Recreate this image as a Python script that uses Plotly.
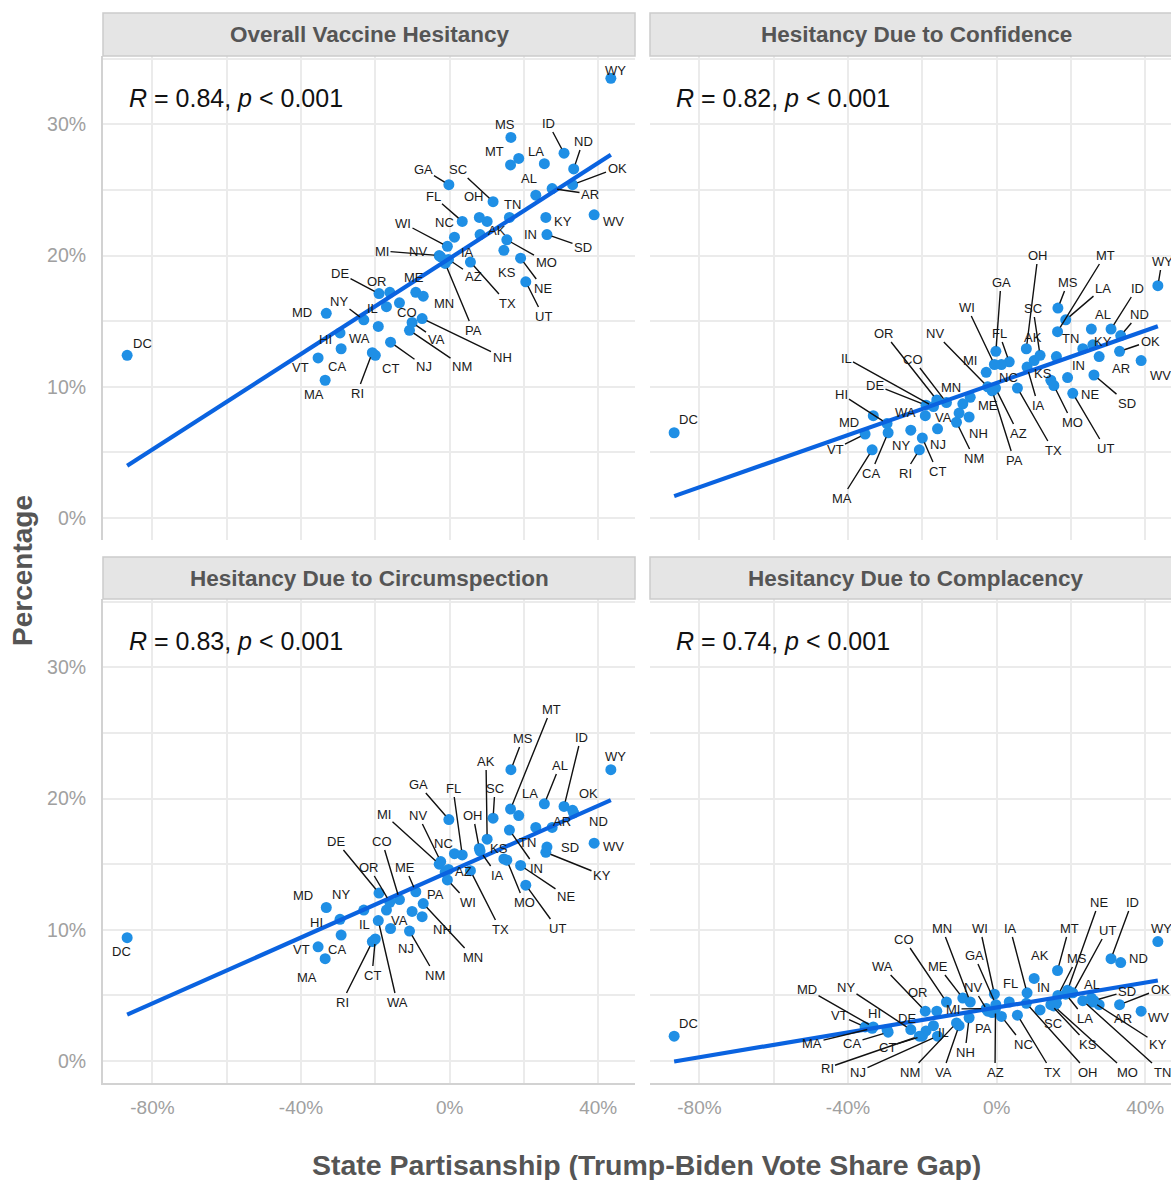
import numpy as np
import plotly.graph_objects as go

# ---------------- data ----------------
STATES = ["AL", "AK", "AZ", "AR", "CA", "CO", "CT", "DE", "DC", "FL", "GA", "HI", "ID", "IL", "IN",
          "IA", "KS", "KY", "LA", "ME", "MD", "MA", "MI", "MN", "MS", "MO", "MT", "NE", "NV", "NH",
          "NJ", "NM", "NY", "NC", "ND", "OH", "OK", "OR", "PA", "RI", "SC", "SD", "TN", "TX", "UT",
          "VT", "VA", "WA", "WV", "WI", "WY"]

# Trump-Biden vote share gap (percentage points)
VOTE_GAP = [25.5, 10.1, -0.3, 27.6, -29.2, -13.5, -20.0, -19.0, -86.8, 3.4, -0.2, -29.5, 30.8, -17.0, 16.1,
            8.2, 14.6, 25.9, 18.6, -9.1, -33.2, -33.5, -2.8, -7.1, 16.5, 15.4, 16.4, 19.1, -2.4, -7.4,
            -15.9, -10.8, -23.1, 1.3, 33.4, 8.0, 33.1, -16.1, -1.2, -20.8, 11.7, 26.2, 23.2, 5.6, 20.5,
            -35.4, -10.1, -19.2, 38.9, -0.6, 43.4]

OVERALL = [27.0, 22.6, 19.7, 25.1, 12.9, 16.4, 12.4, 17.1, 12.4, 22.6, 25.4, 14.1, 27.8, 16.1, 22.9,
           21.6, 20.4, 22.9, 27.4, 17.2, 15.6, 10.5, 20.0, 16.9, 29.0, 21.2, 26.9, 19.8, 19.9, 15.2,
           13.4, 14.3, 15.1, 21.4, 26.6, 22.9, 25.4, 17.2, 19.4, 12.6, 24.1, 21.6, 24.6, 19.5, 18.0,
           12.2, 14.9, 14.6, 23.1, 20.7, 33.5]

CONFIDENCE = [14.4, 12.0, 9.9, 12.3, 6.5, 8.8, 6.1, 8.6, 6.5, 11.9, 12.7, 7.2, 14.4, 8.5, 12.3,
              11.5, 10.5, 13.2, 15.1, 8.7, 7.8, 5.2, 11.1, 9.2, 16.0, 10.1, 14.2, 10.7, 10.0, 7.7,
              6.8, 7.3, 6.7, 11.7, 13.9, 12.9, 12.7, 9.0, 9.7, 5.2, 12.4, 10.9, 12.9, 9.9, 9.5,
              6.4, 8.0, 7.8, 12.0, 11.7, 17.7]

CIRCUMSPECTION = [19.6, 16.9, 14.6, 17.8, 9.6, 12.3, 9.3, 12.8, 9.4, 15.7, 18.4, 10.8, 19.4, 11.5, 17.6,
                  16.0, 15.4, 15.9, 18.7, 12.9, 11.7, 7.8, 15.0, 12.0, 22.2, 15.3, 19.2, 14.9, 15.2, 11.0,
                  10.1, 9.9, 11.5, 15.8, 18.9, 16.2, 19.1, 12.1, 14.4, 9.1, 18.5, 16.3, 17.8, 14.5, 13.4,
                  8.7, 11.4, 10.7, 16.6, 13.8, 22.2]

COMPLACENCY = [4.8, 6.3, 4.0, 4.3, 2.2, 4.5, 1.9, 2.3, 1.9, 4.5, 4.3, 2.4, 7.8, 2.7, 4.4,
               5.2, 4.3, 4.5, 5.1, 4.8, 2.6, 2.5, 4.0, 4.5, 5.0, 4.2, 6.9, 5.4, 3.8, 3.3,
               1.9, 2.9, 2.4, 3.4, 7.5, 4.4, 4.3, 3.8, 3.7, 1.9, 3.9, 4.6, 4.6, 3.5, 5.2,
               2.6, 2.7, 3.8, 3.8, 5.1, 9.1]

PANEL_TITLES = ["Overall Vaccine Hesitancy", "Hesitancy Due to Confidence",
                "Hesitancy Due to Circumspection", "Hesitancy Due to Complacency"]
R_VALUES = ["0.84", "0.82", "0.83", "0.74"]
P_TEXT = "0.001"
X_TICKS = [-80, -40, 0, 40]
X_MINOR = [-60, -20, 20]
Y_TICKS = [0, 10, 20, 30]
Y_MINOR = [5, 15, 25, 35]
X_TITLE = "State Partisanship (Trump-Biden Vote Share Gap)"
Y_TITLE = "Percentage"

SERIES = [OVERALL, CONFIDENCE, CIRCUMSPECTION, COMPLACENCY]

# ---------------- label placement (repel layout, page pixels) ----------------
LABEL_PLACEMENT = [
    {'WY': (615, 70), 'MS': (505, 124), 'ID': (548, 123), 'ND': (583, 141), 'MT': (494, 151), 'LA': (536, 151),
     'OK': (617, 168), 'GA': (423, 169), 'SC': (458, 169), 'AL': (529, 178), 'AR': (590, 194), 'FL': (433, 196),
     'OH': (474, 196), 'TN': (512, 204), 'WI': (403, 223), 'NC': (444, 222), 'KY': (563, 221), 'WV': (613, 221),
     'AK': (497, 230), 'IN': (530, 234), 'SD': (583, 247), 'MI': (382, 251), 'NV': (418, 251), 'IA': (467, 252),
     'MO': (546, 262), 'DE': (340, 273), 'KS': (507, 272), 'AZ': (473, 276), 'OR': (377, 281), 'ME': (414, 277),
     'NE': (543, 288), 'TX': (507, 303), 'NY': (339, 301), 'MN': (444, 303), 'MD': (302, 312), 'IL': (372, 308),
     'CO': (407, 312), 'UT': (543, 316), 'PA': (473, 330), 'HI': (325, 339), 'WA': (359, 338), 'VA': (436, 339),
     'NH': (502, 357), 'VT': (300, 367), 'CA': (337, 366), 'CT': (390, 368), 'NJ': (424, 366), 'NM': (462, 366),
     'MA': (314, 394), 'RI': (357, 393), 'DC': (142, 343)},
    {'WY': (1162, 261), 'MT': (1105, 255), 'OH': (1038, 255), 'GA': (1001, 282), 'MS': (1068, 282), 'LA': (1103, 288),
     'ID': (1137, 288), 'WI': (967, 307), 'SC': (1033, 308), 'AL': (1103, 314), 'ND': (1139, 314), 'OR': (884, 333),
     'NV': (935, 333), 'FL': (999, 333), 'AK': (1033, 337), 'TN': (1070, 338), 'KY': (1103, 341), 'OK': (1150, 341),
     'IL': (846, 358), 'CO': (913, 359), 'MI': (970, 360), 'IN': (1078, 365), 'AR': (1121, 368), 'KS': (1043, 373),
     'WV': (1160, 375), 'NC': (1008, 377), 'DE': (875, 385), 'MN': (951, 387), 'HI': (841, 394), 'NE': (1090, 394),
     'SD': (1127, 403), 'ME': (988, 405), 'IA': (1038, 405), 'WA': (905, 412), 'VA': (943, 417), 'MD': (849, 422),
     'DC': (688, 419), 'MO': (1072, 422), 'NH': (978, 433), 'AZ': (1018, 433), 'NJ': (938, 444), 'NY': (901, 445),
     'VT': (835, 449), 'TX': (1053, 450), 'UT': (1105, 448), 'NM': (974, 458), 'PA': (1014, 460), 'CT': (937, 471),
     'CA': (871, 473), 'RI': (905, 473), 'MA': (842, 498)},
    {'WY': (615, 756), 'MT': (551, 709), 'MS': (523, 738), 'ID': (581, 737), 'AL': (560, 765), 'AK': (486, 761),
     'GA': (418, 784), 'FL': (453, 788), 'SC': (495, 788), 'LA': (530, 793), 'OK': (588, 793), 'OH': (473, 815),
     'MI': (384, 814), 'NV': (418, 815), 'AR': (562, 821), 'ND': (598, 821), 'DE': (336, 841), 'CO': (382, 841),
     'NC': (443, 843), 'TN': (527, 842), 'KS': (499, 848), 'WV': (613, 846), 'SD': (570, 847), 'IN': (536, 868),
     'OR': (369, 867), 'ME': (405, 867), 'AZ': (463, 871), 'IA': (497, 875), 'KY': (602, 875), 'MD': (303, 895),
     'NY': (341, 894), 'PA': (435, 894), 'NE': (566, 896), 'WI': (468, 902), 'MO': (524, 902), 'HI': (316, 922),
     'IL': (364, 924), 'VA': (399, 920), 'NH': (442, 929), 'TX': (500, 929), 'UT': (557, 928), 'CA': (337, 949),
     'VT': (301, 949), 'NJ': (406, 948), 'MN': (473, 957), 'MA': (307, 977), 'CT': (372, 975), 'NM': (435, 975),
     'RI': (342, 1002), 'WA': (397, 1002), 'DC': (121, 951)},
    {'NE': (1099, 902), 'ID': (1132, 902), 'CO': (904, 939), 'MN': (942, 928), 'WI': (980, 928), 'IA': (1010, 928),
     'MT': (1069, 928), 'UT': (1107, 930), 'WY': (1161, 928), 'GA': (974, 955), 'AK': (1040, 955), 'MS': (1077, 958),
     'ND': (1138, 958), 'WA': (882, 966), 'ME': (938, 966), 'FL': (1010, 983), 'NV': (973, 987), 'IN': (1043, 987),
     'AL': (1092, 984), 'MD': (807, 989), 'NY': (846, 987), 'OR': (918, 992), 'SD': (1127, 991), 'OK': (1160, 989),
     'MI': (953, 1009), 'VT': (839, 1015), 'HI': (874, 1013), 'DE': (907, 1018), 'LA': (1085, 1018),
     'AR': (1123, 1018), 'WV': (1158, 1017), 'SC': (1053, 1023), 'PA': (983, 1028), 'IL': (943, 1032),
     'MA': (812, 1043), 'CA': (852, 1043), 'CT': (887, 1047), 'NC': (1023, 1044), 'KS': (1088, 1044),
     'KY': (1158, 1044), 'NH': (965, 1052), 'RI': (827, 1068), 'NJ': (858, 1072), 'NM': (910, 1072),
     'VA': (943, 1072), 'AZ': (995, 1072), 'TX': (1052, 1072), 'OH': (1088, 1072), 'MO': (1127, 1072),
     'TN': (1162, 1072), 'DC': (688, 1023)},
]

# ---------------- layout geometry & style ----------------
OFF = 0  # page body margin is removed by the post script below
W, H = 1171, 1180
ML, MR, MT = 103, 0, 13
MB = H - 1083
PW, PH = W - ML - MR, H - MT - MB
X_RANGE = [[-93.3, 49.9], [-93.3, 46.94], [-93.3, 49.9], [-93.3, 46.94]]
Y_RANGE = [-1.67, 35.2]
DOM_X = [[0, 532 / PW], [547 / PW, 1.0], [0, 532 / PW], [547 / PW, 1.0]]
DOM_Y = [[1 - 527 / PH, 1 - 43 / PH], [1 - 527 / PH, 1 - 43 / PH], [0, 1 - 586 / PH], [0, 1 - 586 / PH]]
STRIP_Y = [[1 - 43 / PH, 1.0], [1 - 586 / PH, 1 - 544 / PH]]
STRIP_X = [[0, 532 / PW], [547 / PW, 1079 / PW]]

FONT = "Liberation Sans, Arial, sans-serif"
PT_COLOR = "#1F8FE5"
LINE_COLOR = "#0A63E0"
GRID = "#EBEBEB"
AXLINE = "#D2D2D2"
TICK_COLOR = "#A0A0A0"
TITLE_COLOR = "#555555"


def panel_box(i):
    """Panel bounds in page pixels."""
    left = OFF + ML + DOM_X[i][0] * PW
    right = OFF + ML + DOM_X[i][1] * PW
    top = OFF + MT + (1 - DOM_Y[i][1]) * PH
    bottom = OFF + MT + (1 - DOM_Y[i][0]) * PH
    return left, right, top, bottom


def px_to_data(i, px, py):
    left, right, top, bottom = panel_box(i)
    xr = X_RANGE[i]
    xd = xr[0] + (px - left) / (right - left) * (xr[1] - xr[0])
    yd = Y_RANGE[1] - (py - top) / (bottom - top) * (Y_RANGE[1] - Y_RANGE[0])
    return xd, yd


def data_to_px(i, xd, yd):
    left, right, top, bottom = panel_box(i)
    xr = X_RANGE[i]
    px = left + (xd - xr[0]) / (xr[1] - xr[0]) * (right - left)
    py = top + (Y_RANGE[1] - yd) / (Y_RANGE[1] - Y_RANGE[0]) * (bottom - top)
    return px, py


def page_to_paper(px, py):
    return (px - OFF - ML) / PW, 1 - (py - OFF - MT) / PH


fig = go.Figure()
annotations = []
shapes = []

for i, vals in enumerate(SERIES):
    xa = "x" if i == 0 else f"x{i + 1}"
    ya = "y" if i == 0 else f"y{i + 1}"
    fig.add_trace(go.Scatter(x=VOTE_GAP, y=vals, xaxis=xa, yaxis=ya, mode="markers",
                             marker=dict(size=11, color=PT_COLOR, line=dict(width=0)),
                             text=STATES, hoverinfo="text+x+y", showlegend=False))
    slope, icpt = np.polyfit(VOTE_GAP, vals, 1)
    xs = np.array([min(VOTE_GAP), max(VOTE_GAP)])
    fig.add_trace(go.Scatter(x=xs, y=slope * xs + icpt, xaxis=xa, yaxis=ya, mode="lines",
                             line=dict(color=LINE_COLOR, width=4.2), hoverinfo="skip", showlegend=False))

    # state labels (repelled text with leader segments)
    for s, xv, yv in zip(STATES, VOTE_GAP, vals):
        lpx, lpy = LABEL_PLACEMENT[i][s]
        lx, ly = px_to_data(i, lpx, lpy)
        ppx, ppy = data_to_px(i, xv, yv)
        hw = 4.3 * len(s)
        gap = np.hypot(max(abs(lpx - ppx) - hw, 0), max(abs(lpy - ppy) - 7, 0))
        draw = gap > 17
        annotations.append(dict(
            x=xv, y=yv, xref=xa, yref=ya, ax=lx, ay=ly, axref=xa, ayref=ya,
            text=s, showarrow=True, arrowhead=0, arrowwidth=1.4,
            arrowcolor="#111111" if draw else "rgba(0,0,0,0)", standoff=5,
            font=dict(family=FONT, size=13, color="#1A1A1A")))

    # correlation text
    left, right, top, bottom = panel_box(i)
    rx, ry = page_to_paper(left + 24, top + 42)
    annotations.append(dict(
        x=rx, y=ry, xref="paper", yref="paper",
        xanchor="left", yanchor="middle", showarrow=False,
        text=f"<i>R</i> = {R_VALUES[i]}, <i>p</i> &lt; {P_TEXT}",
        font=dict(family=FONT, size=25, color="#111111")))

    # axes
    bottom_row = i >= 2
    left_col = i % 2 == 0
    fig.update_layout(**{
        ("xaxis" if i == 0 else f"xaxis{i + 1}"): dict(
            domain=DOM_X[i], range=X_RANGE[i], anchor=ya, tickmode="array", tickvals=X_TICKS,
            ticktext=[f"{t}%" for t in X_TICKS], showticklabels=bottom_row, ticks="",
            ticklabelstandoff=6,
            showgrid=True, gridcolor=GRID, gridwidth=1.5, zeroline=False,
            minor=dict(tickmode="array", tickvals=X_MINOR, showgrid=True, gridcolor=GRID, gridwidth=1.5),
            showline=bottom_row, linecolor=AXLINE, linewidth=2,
            tickfont=dict(family=FONT, size=19, color=TICK_COLOR)),
        ("yaxis" if i == 0 else f"yaxis{i + 1}"): dict(
            domain=DOM_Y[i], range=Y_RANGE, anchor=xa, tickmode="array", tickvals=Y_TICKS,
            ticktext=[f"{t}%" for t in Y_TICKS], showticklabels=left_col, ticks="",
            ticklabelstandoff=11,
            showgrid=True, gridcolor=GRID, gridwidth=1.5, zeroline=False,
            minor=dict(tickmode="array", tickvals=Y_MINOR, showgrid=True, gridcolor=GRID, gridwidth=1.5),
            showline=left_col, linecolor=AXLINE, linewidth=2,
            tickfont=dict(family=FONT, size=19.5, color=TICK_COLOR)),
    })

# strips
for r in range(2):
    for c in range(2):
        i = r * 2 + c
        shapes.append(dict(type="rect", xref="paper", yref="paper",
                           x0=STRIP_X[c][0], x1=STRIP_X[c][1], y0=STRIP_Y[r][0], y1=STRIP_Y[r][1],
                           fillcolor="#E5E5E5", line=dict(color="#CBCBCB", width=1.5), layer="above"))
        annotations.append(dict(x=(STRIP_X[c][0] + STRIP_X[c][1]) / 2,
                                y=(STRIP_Y[r][0] + STRIP_Y[r][1]) / 2,
                                xref="paper", yref="paper", showarrow=False,
                                xanchor="center", yanchor="middle",
                                text=f"<b>{PANEL_TITLES[i]}</b>",
                                font=dict(family=FONT, size=22.5, color=TITLE_COLOR)))

# axis titles
tx, ty = page_to_paper(646, 1165)
annotations.append(dict(x=tx, y=ty, xref="paper", yref="paper",
                        showarrow=False, xanchor="center", yanchor="middle",
                        text=f"<b>{X_TITLE}</b>", font=dict(family=FONT, size=28.5, color=TITLE_COLOR)))
tx, ty = page_to_paper(22, 571)
annotations.append(dict(x=tx, y=ty, xref="paper", yref="paper",
                        showarrow=False, xanchor="center", yanchor="middle", textangle=-90,
                        text=f"<b>{Y_TITLE}</b>", font=dict(family=FONT, size=28, color=TITLE_COLOR)))

fig.update_layout(width=W, height=H, margin=dict(l=ML, r=MR, t=MT, b=MB, autoexpand=False),
                  plot_bgcolor="white", paper_bgcolor="white", showlegend=False,
                  annotations=annotations, shapes=shapes,
                  font=dict(family=FONT))

fig.write_html("out.html",
               config={"displayModeBar": False},
               post_script="document.body.style.margin='0px';"
                           "document.documentElement.style.overflow='hidden';"
                           "document.body.style.overflow='hidden';")
